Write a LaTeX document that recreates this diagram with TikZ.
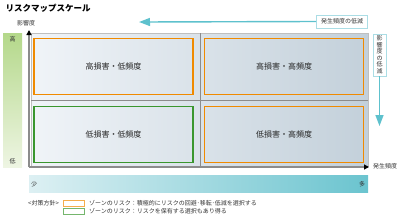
\documentclass[tikz,border=0pt]{standalone}
\usepackage{fontspec}
\setmainfont{Noto Sans CJK JP}
\usepackage{tikz}
\usetikzlibrary{arrows.meta, shapes, calc, backgrounds, positioning, shadings}
\usepackage{xcolor}

\definecolor{riskorange}{HTML}{F08A00}
\definecolor{riskgreen}{HTML}{3A962E}
\definecolor{riskcyan}{HTML}{5EC1CD}
\definecolor{boxline}{HTML}{ABDDE5}
\definecolor{panelleft}{HTML}{F0F4F8}
\definecolor{panelright}{HTML}{C3D0DA}
\definecolor{axisgray}{HTML}{8C8C8C}
\definecolor{greentop}{HTML}{B4D88A}
\definecolor{greenbottom}{HTML}{EEF5E3}
\definecolor{barleft}{HTML}{DDF0F3}
\definecolor{barright}{HTML}{6BC4CF}

\tikzset{
  small/.style={font=\fontsize{6}{6.5}\selectfont, text=black!80, inner sep=0pt},
  zone/.style={line width=1.8pt, minimum width=159pt, minimum height=56pt,
    font=\fontsize{8}{9}\selectfont, text=black!85},
  tagbox/.style={small, draw=boxline, line width=0.9pt, fill=white, inner sep=2pt},
  axis/.style={axisgray, line width=1.2pt, -{Triangle[length=5pt, width=5pt, color=black]}},
  reduce/.style={riskcyan, line width=1.4pt, -{Triangle[length=11pt, width=8pt]}}
}

\begin{document}
\begin{tikzpicture}[x=1pt, y=-1pt]
  \useasboundingbox (0,0) rectangle (400,218);

  % title
  \node[anchor=west, font=\fontsize{8.5}{9}\selectfont\bfseries] (title) at (2,8) {リスクマップスケール};

  % scales
  \shade[top color=greentop, bottom color=greenbottom] (3,33) rectangle (22,167);
  \node[small] (high) at (12.5,39) {高};
  \node[small] (low) at (12.5,161) {低};
  \shade[left color=barleft, right color=barright] (29,175) rectangle (368,192);
  \node[small] (few) at (34,184) {少};
  \node[small] (many) at (362,184) {多};

  % map area
  \shade[left color=panelleft, right color=panelright] (31,33) rectangle (368,166);
  \draw[black!25] (31,33) rectangle (368,166);
  \draw[axisgray, line width=0.8pt] (31,100) -- (368,100);
  \draw[axisgray, line width=0.8pt] (200,33) -- (200,166);

  % zones
  \node[zone, draw=riskorange] (hilo) at (113.5,66.5) {高損害・低頻度};
  \node[zone, draw=riskorange] (hihi) at (284,66.5) {高損害・高頻度};
  \node[zone, draw=riskgreen] (lolo) at (113.5,134.5) {低損害・低頻度};
  \node[zone, draw=riskorange] (lohi) at (284,134.5) {低損害・高頻度};

  % axes
  \coordinate (origin) at (29,167);
  \coordinate (ytip) at (29,30);
  \coordinate (xtip) at (369,167);
  \draw[axis] (origin) -- (ytip);
  \draw[axis] (origin) -- (xtip);
  \node[small] (impact) at (26,23) {影響度};
  \node[small, anchor=west] (freq) at (373,166) {発生頻度};

  % reduction arrows
  \node[tagbox, minimum width=51pt, minimum height=13pt] (freqdown) at (342,21.5) {発生頻度の低減};
  \coordinate (freqend) at (139,22);
  \draw[reduce] (freqdown.west) -- (freqend);
  \node[tagbox, align=center, minimum width=13pt] (impactdown) at (379.5,55) {影\\響\\度\\の\\低\\減};
  \coordinate (impactend) at (379.5,126);
  \draw[reduce] (impactdown.south) -- (impactend);

  % legend
  \node[small, anchor=west] (policy) at (28,203) {<対策方針>};
  \draw[riskorange!70, line width=0.8pt] (63,200) rectangle (84,206);
  \node[small, anchor=west] (orangenote) at (89,203) {ゾーンのリスク：積極的にリスクの回避･移転･低減を選択する};
  \draw[riskgreen!70, line width=0.8pt] (63,208) rectangle (84,214);
  \node[small, anchor=west] (greennote) at (89,211) {ゾーンのリスク：リスクを保有する選択もあり得る};
\end{tikzpicture}
\end{document}
